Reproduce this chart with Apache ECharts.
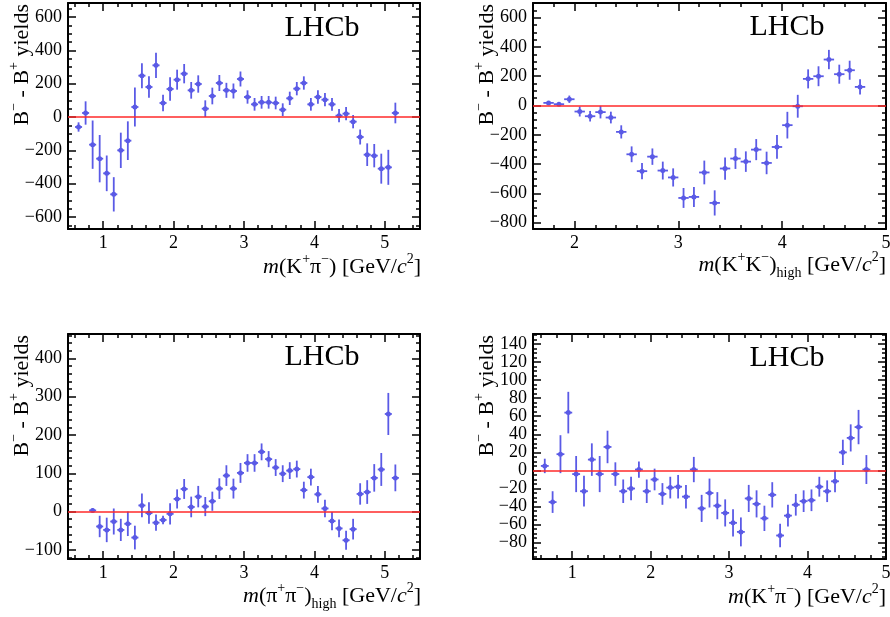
<!DOCTYPE html>
<html>
<head>
<meta charset="utf-8">
<script src="https://cdn.jsdelivr.net/npm/echarts@6/dist/echarts.min.js"></script>
<style>
  html, body { margin: 0; padding: 0; background: #fff; }
  #chart { width: 890px; height: 617px; }
</style>
</head>
<body>
<div id="chart"></div>
<script>
// top left: B- - B+ yields vs m(K+pi-)
const kpiMass = [0.65, 0.75, 0.85, 0.95, 1.05, 1.15, 1.25, 1.35, 1.45, 1.55, 1.65, 1.75, 1.85, 1.95, 2.05, 2.15,
  2.25, 2.35, 2.45, 2.55, 2.65, 2.75, 2.85, 2.95, 3.05, 3.15, 3.25, 3.35, 3.45, 3.55, 3.65, 3.75, 3.85, 3.95,
  4.05, 4.15, 4.25, 4.35, 4.45, 4.55, 4.65, 4.75, 4.85, 4.95, 5.05, 5.15];
const kpiYield = [-60, 24, -166, -250, -338, -464, -200, -142, 60, 248, 180, 310, 84, 168, 224, 260,
  160, 198, 50, 126, 204, 160, 156, 228, 120, 76, 88, 88, 84, 44, 112, 170, 204, 76,
  120, 104, 76, 8, 20, -28, -120, -226, -232, -310, -302, 24];
const kpiErr = [28, 70, 145, 142, 107, 103, 106, 116, 117, 75, 64, 76, 50, 70, 60, 58,
  50, 52, 50, 50, 48, 45, 45, 45, 40, 38, 38, 38, 38, 38, 40, 40, 40, 38,
  40, 40, 38, 40, 40, 40, 45, 68, 70, 90, 105, 62];

// top right: vs m(K+K-)high
const kkMass = [1.75, 1.85, 1.95, 2.05, 2.15, 2.25, 2.35, 2.45, 2.55, 2.65, 2.75, 2.85, 2.95, 3.05, 3.15, 3.25,
  3.35, 3.45, 3.55, 3.65, 3.75, 3.85, 3.95, 4.05, 4.15, 4.25, 4.35, 4.45, 4.55, 4.65, 4.75];
const kkYield = [18, 9, 43, -41, -73, -45, -82, -180, -333, -448, -349, -444, -491, -631, -624, -457,
  -665, -430, -362, -383, -301, -392, -283, -134, -5, 182, 200, 314, 214, 241, 127];
const kkErr = [10, 10, 25, 34, 36, 43, 40, 45, 54, 56, 56, 61, 62, 68, 68, 81,
  86, 76, 71, 70, 72, 77, 81, 91, 78, 65, 68, 66, 65, 65, 52];

// bottom left: vs m(pi+pi-)high
const pipiMass = [0.85, 0.95, 1.05, 1.15, 1.25, 1.35, 1.45, 1.55, 1.65, 1.75, 1.85, 1.95, 2.05, 2.15, 2.25,
  2.35, 2.45, 2.55, 2.65, 2.75, 2.85, 2.95, 3.05, 3.15, 3.25, 3.35, 3.45, 3.55, 3.65, 3.75, 3.85, 3.95,
  4.05, 4.15, 4.25, 4.35, 4.45, 4.55, 4.65, 4.75, 4.85, 4.95, 5.05, 5.15];
const pipiYield = [3, -39, -48, -26, -48, -32, -68, 16, -4, -29, -22, -6, 33, 59, 12,
  39, 13, 27, 60, 94, 60, 101, 127, 127, 156, 137, 115, 99, 107, 111, 56, 90,
  45, 8, -25, -44, -75, -46, 46, 51, 88, 110, 255, 88];
const pipiErr = [6, 28, 32, 34, 29, 32, 31, 31, 28, 21, 11, 28, 25, 26, 27,
  28, 25, 25, 27, 27, 26, 26, 23, 23, 22, 21, 22, 22, 22, 22, 22, 22,
  22, 23, 24, 23, 25, 27, 28, 31, 36, 43, 55, 35];

// bottom right: vs m(K+pi-), second sample
const kpi2Mass = [0.65, 0.75, 0.85, 0.95, 1.05, 1.15, 1.25, 1.35, 1.45, 1.55, 1.65, 1.75, 1.85, 1.95, 2.05,
  2.15, 2.25, 2.35, 2.45, 2.55, 2.65, 2.75, 2.85, 2.95, 3.05, 3.15, 3.25, 3.35, 3.45, 3.55, 3.65, 3.75,
  3.85, 3.95, 4.05, 4.15, 4.25, 4.35, 4.45, 4.55, 4.65, 4.75];
const kpi2Yield = [5, -35, 18, 64, -4, -23, 12, -4, 26, -4, -23, -20, 1, -23, -10,
  -26, -19, -18, -29, 1, -42, -25, -39, -47, -58, -68, -31, -37, -53, -27, -72, -50,
  -38, -34, -33, -18, -23, -12, 20, 36, 48, 1];
const kpi2Err = [8, 12, 21, 23, 20, 17, 18, 20, 18, 13, 13, 13, 9, 13, 12,
  12, 12, 13, 13, 14, 15, 16, 15, 15, 15, 16, 15, 15, 14, 14, 13, 12,
  12, 12, 12, 11, 12, 12, 14, 15, 19, 16];

// tick labels
const massTicks = [1, 2, 3, 4, 5];
const kkMassTicks = [2, 3, 4, 5];
const kpiYTicks = [-600, -400, -200, 0, 200, 400, 600];
const kkYTicks = [-800, -600, -400, -200, 0, 200, 400, 600];
const pipiYTicks = [-100, 0, 100, 200, 300, 400];
const kpi2YTicks = [-80, -60, -40, -20, 0, 20, 40, 60, 80, 100, 120, 140];

const BIN_HALF = 0.05;
const FONT = '"Liberation Serif", "Times New Roman", serif';
const POINT = '#5a5ae6';

const rich = {
  n: { fontFamily: FONT, fontSize: 22, fill: '#000' },
  i: { fontFamily: FONT, fontSize: 22, fontStyle: 'italic', fill: '#000' },
  sup: { fontFamily: FONT, fontSize: 14, padding: [0, 0, 15, 0], fill: '#000' },
  sub: { fontFamily: FONT, fontSize: 14, padding: [17, 0, 0, 0], fill: '#000' }
};
const yTitle = '{n|B}{sup|\u2212}{n| - B}{sup|+}{n| yields}';
const kpiTitle = '{i|m}{n|(K}{sup|+}{n|\u03c0}{sup|\u2212}{n|) [GeV/}{i|c}{sup|2}{n|]}';
const kkTitle = '{i|m}{n|(K}{sup|+}{n|K}{sup|\u2212}{n|)}{sub|high}{n| [GeV/}{i|c}{sup|2}{n|]}';
const pipiTitle = '{i|m}{n|(\u03c0}{sup|+}{n|\u03c0}{sup|\u2212}{n|)}{sub|high}{n| [GeV/}{i|c}{sup|2}{n|]}';

const panels = [
  { mass: kpiMass, yld: kpiYield, err: kpiErr, xr: [0.5, 5.5], yr: [-672, 684],
    xTicks: massTicks, yTicks: kpiYTicks, xMinor: 0.2, yMinor: 50, xTitle: kpiTitle,
    grid: { left: 68, top: 3, width: 352, height: 226 }, lhcb: [322, 28], yt: [22, 4], xt: [421, 267] },
  { mass: kkMass, yld: kkYield, err: kkErr, xr: [1.6, 5], yr: [-843, 700],
    xTicks: kkMassTicks, yTicks: kkYTicks, xMinor: 0.2, yMinor: 50, xTitle: kkTitle,
    grid: { left: 533, top: 3, width: 353, height: 226 }, lhcb: [787, 27], yt: [487, 4], xt: [886, 265] },
  { mass: pipiMass, yld: pipiYield, err: pipiErr, xr: [0.5, 5.5], yr: [-124, 464],
    xTicks: massTicks, yTicks: pipiYTicks, xMinor: 0.2, yMinor: 20, xTitle: pipiTitle,
    grid: { left: 68, top: 334, width: 352, height: 225 }, lhcb: [322, 357], yt: [22, 335], xt: [421, 596] },
  { mass: kpi2Mass, yld: kpi2Yield, err: kpi2Err, xr: [0.5, 5], yr: [-98, 151],
    xTicks: massTicks, yTicks: kpi2YTicks, xMinor: 0.2, yMinor: 5, xTitle: kpiTitle,
    grid: { left: 533, top: 334, width: 353, height: 225 }, lhcb: [787, 358], yt: [487, 335], xt: [886, 597] }
];

function minorTicks(lo, hi, step, majors) {
  const out = [];
  const start = Math.ceil(lo / step - 1e-9) * step;
  for (let k = 0; start + k * step <= hi + 1e-9; k++) {
    const v = Math.round((start + k * step) * 1000) / 1000;
    if (v <= lo || v >= hi) continue;
    if (majors.some(m => Math.abs(m - v) < 1e-6)) continue;
    out.push(v);
  }
  return out;
}

function fmt(v) {
  return v < 0 ? '\u2212' + (-v) : String(v);
}

function axis(gi, pos, range, ticks, major, label) {
  return {
    type: 'value', gridIndex: gi, position: pos, min: range[0], max: range[1],
    axisLine: { show: major, onZero: false, lineStyle: { color: '#000', width: 2 } },
    axisTick: { show: true, inside: true, length: major ? 8 : 4, customValues: ticks,
      lineStyle: { color: '#000', width: 1.5 } },
    axisLabel: { show: label, customValues: ticks, formatter: fmt, color: '#000',
      fontFamily: FONT, fontSize: 18, margin: pos === 'bottom' ? 5 : 6 },
    splitLine: { show: false },
    minorTick: { show: false }
  };
}

function renderItem(params, api) {
  const x = api.value(0), y = api.value(1), e = api.value(2);
  const c = api.coord([x, y]);
  const lo = api.coord([x, y - e]);
  const hi = api.coord([x, y + e]);
  const l = api.coord([x - BIN_HALF, y]);
  const r = api.coord([x + BIN_HALF, y]);
  const ls = { stroke: POINT, lineWidth: 1.8 };
  return {
    type: 'group',
    children: [
      { type: 'line', shape: { x1: lo[0], y1: lo[1], x2: hi[0], y2: hi[1] }, style: ls },
      { type: 'line', shape: { x1: l[0], y1: l[1], x2: r[0], y2: r[1] }, style: ls },
      { type: 'circle', shape: { cx: c[0], cy: c[1], r: 2.5 }, style: { fill: POINT } }
    ]
  };
}

const grid = [], xAxis = [], yAxis = [], series = [], graphic = [];

panels.forEach((p, gi) => {
  grid.push(Object.assign({ containLabel: false, outerBoundsMode: 'none' }, p.grid));
  const xm = minorTicks(p.xr[0], p.xr[1], p.xMinor, p.xTicks);
  const ym = minorTicks(p.yr[0], p.yr[1], p.yMinor, p.yTicks);
  const xi = xAxis.length, yi = yAxis.length;
  xAxis.push(axis(gi, 'bottom', p.xr, p.xTicks, true, true));
  xAxis.push(axis(gi, 'bottom', p.xr, xm, false, false));
  xAxis.push(axis(gi, 'top', p.xr, p.xTicks, true, false));
  xAxis.push(axis(gi, 'top', p.xr, xm, false, false));
  yAxis.push(axis(gi, 'left', p.yr, p.yTicks, true, true));
  yAxis.push(axis(gi, 'left', p.yr, ym, false, false));
  yAxis.push(axis(gi, 'right', p.yr, p.yTicks, true, false));
  yAxis.push(axis(gi, 'right', p.yr, ym, false, false));

  series.push({
    type: 'custom',
    xAxisIndex: xi, yAxisIndex: yi,
    renderItem: renderItem,
    clip: true,
    encode: { x: 0, y: 1 },
    data: p.mass.map((m, k) => [m, p.yld[k], p.err[k]]),
    markLine: {
      silent: true, symbol: 'none', animation: false,
      label: { show: false },
      lineStyle: { color: '#ff2a2a', width: 1.6, type: 'solid' },
      data: [{ yAxis: 0 }]
    },
    z: 3
  });

  graphic.push({
    type: 'text', x: p.lhcb[0], y: p.lhcb[1],
    style: { text: 'LHCb', fill: '#000', fontFamily: FONT, fontSize: 30,
      align: 'center', verticalAlign: 'middle', textAlign: 'center', textVerticalAlign: 'middle' }
  });
  graphic.push({
    type: 'text', x: p.yt[0], y: p.yt[1], rotation: Math.PI / 2,
    style: { text: yTitle, rich: rich, fill: '#000', fontFamily: FONT, fontSize: 22,
      align: 'right', verticalAlign: 'middle', textAlign: 'right', textVerticalAlign: 'middle' }
  });
  graphic.push({
    type: 'text', x: p.xt[0], y: p.xt[1],
    style: { text: p.xTitle, rich: rich, fill: '#000', fontFamily: FONT, fontSize: 22,
      align: 'right', verticalAlign: 'middle', textAlign: 'right', textVerticalAlign: 'middle' }
  });
});

const chart = echarts.init(document.getElementById('chart'), null, { renderer: 'canvas' });
chart.setOption({
  backgroundColor: '#fff',
  animation: false,
  grid: grid,
  xAxis: xAxis,
  yAxis: yAxis,
  series: series,
  graphic: graphic
});
</script>
</body>
</html>
